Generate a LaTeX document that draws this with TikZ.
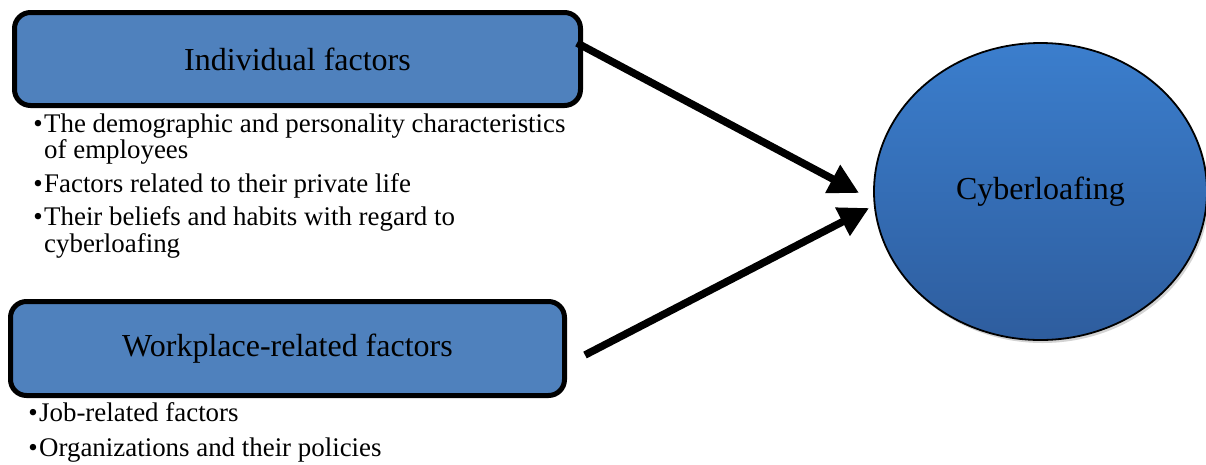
\documentclass[tikz,border=0pt]{standalone}
\usepackage{fontspec}
\setmainfont{Liberation Serif}
\usetikzlibrary{arrows.meta,positioning,shapes.geometric,shadows}
\definecolor{boxblue}{HTML}{4F81BD}
\definecolor{ovaltop}{RGB}{59,126,205}
\definecolor{ovalbottom}{RGB}{46,93,158}
\newcommand{\titlefont}{\fontsize{32}{36}\selectfont}
\newcommand{\listfont}{\fontsize{26.9}{30}\selectfont}
\newcommand{\bul}{\llap{\textbullet\hspace{1.5pt}}}

\begin{document}
\begin{tikzpicture}[
    x=1pt, y=-1pt,
    factor/.style={rectangle, rounded corners=16pt, draw=black, line width=5pt, fill=boxblue, inner sep=0pt, font=\titlefont},
    outcome/.style={ellipse, draw=black, line width=1.8pt, top color=ovaltop, bottom color=ovalbottom, minimum width=333pt, minimum height=297pt, inner sep=0pt, font=\titlefont, drop shadow={shadow xshift=2pt, shadow yshift=-3pt, opacity=.35}},
    point/.style={anchor=base west, inner sep=0pt, font=\listfont},
    arrow/.style={line width=7.5pt, -{Triangle[length=30pt,width=30pt]}}
]
\useasboundingbox (0,0) rectangle (1206,464);

% Factor boxes and outcome
\node[factor, minimum width=566pt, minimum height=93pt] (indiv) at (297.5,59) {Individual factors};
\node[factor, minimum width=554pt, minimum height=94pt] (work) at (287.5,348.5) {Workplace-related factors};
\node[outcome] (cyber) at (1040.5,191.5) {Cyberloafing};

% Individual factor points
\node[point] (p1a) at (44,132) {\bul The demographic and personality characteristics};
\node[point] (p1b) at (44,158) {of employees};
\node[point] (p2) at (44,192) {\bul Factors related to their private life};
\node[point] (p3a) at (44,225) {\bul Their beliefs and habits with regard to};
\node[point] (p3b) at (44,252) {cyberloafing};

% Workplace factor points
\node[point] (q1) at (39,421) {\bul Job-related factors};
\node[point] (q2) at (39,456) {\bul Organizations and their policies};

% Connections
\draw[arrow] ([xshift=-6pt,yshift=16pt]indiv.east) -- ([xshift=-14pt,yshift=-1.5pt]cyber.west);
\draw[arrow] ([xshift=18pt,yshift=-6.5pt]work.east) -- ([xshift=-4pt,yshift=-16.5pt]cyber.west);

\end{tikzpicture}
\end{document}
